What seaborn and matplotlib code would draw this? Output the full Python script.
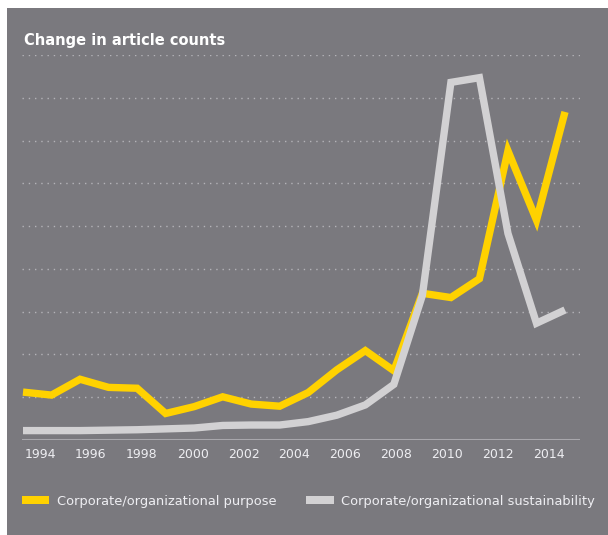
import numpy as np
import pandas as pd
import matplotlib
matplotlib.use("Agg")
import matplotlib.pyplot as plt
from matplotlib.patches import Rectangle, Patch
import seaborn as sns

# ---- data (arbitrary units, gridline = 1) ----
point_index = list(range(20))
purpose = [1.12, 1.05, 1.42, 1.23, 1.21, 0.62, 0.78, 1.01, 0.84, 0.79,
           1.11, 1.64, 2.09, 1.62, 3.43, 3.33, 3.77, 6.76, 5.14, 7.67]
sustainability = [0.22, 0.22, 0.22, 0.23, 0.24, 0.26, 0.28, 0.34, 0.35, 0.35,
                  0.43, 0.58, 0.82, 1.30, 3.38, 8.36, 8.47, 4.83, 2.73, 3.04]
tick_years = [1994, 1996, 1998, 2000, 2002, 2004, 2006, 2008, 2010, 2012, 2014]
series_names = ["Corporate/organizational purpose", "Corporate/organizational sustainability"]
title = "Change in article counts"

YELLOW = "#ffd200"
LGRAY = "#d2d1d3"
BG = "#7a797e"
TXT = "#eeeef2"

df = pd.DataFrame({"x": point_index * 2,
                   "value": purpose + sustainability,
                   "series": [series_names[0]] * 20 + [series_names[1]] * 20})

sns.set_theme(style="white")
plt.rcParams["font.family"] = ["DejaVu Sans"]

W, H = 608, 535
fig = plt.figure(figsize=(W / 100, H / 100), dpi=100, facecolor="white")
fig.patches.append(Rectangle((7 / W, 0), 1 - 7 / W, 1 - 8 / H,
                             transform=fig.transFigure, facecolor=BG,
                             edgecolor="none", zorder=-5))

left_px, right_px, base_px, top_px = 22, 580, 440, 55
ax = fig.add_axes([left_px / W, 1 - base_px / H,
                   (right_px - left_px) / W, (base_px - top_px) / H])
ax.set_facecolor("none")
ax.set_zorder(2)

sns.lineplot(data=df, x="x", y="value", hue="series",
             palette={series_names[0]: YELLOW, series_names[1]: LGRAY},
             hue_order=series_names, linewidth=5.3, ax=ax, legend=False,
             zorder=3)
for ln in ax.lines:
    ln.set_solid_capstyle("butt")
    ln.set_solid_joinstyle("miter")

spacing = (565 - 23) / 19.0
ax.set_xlim(-(23 - left_px) / spacing, 19 + (right_px - 565) / spacing)
ax.set_ylim(0, 9)

for g in range(1, 10):
    ax.axhline(g, color="#b4b3b8", linewidth=1.0, linestyle=(0, (1, 3.5)), zorder=1)
ax.axhline(0, color="#a8a7ac", linewidth=1.5, zorder=2)

tick_pos = [(40 - 23) / spacing + (y - 1994) * (25.45 / spacing) for y in tick_years]
ax.set_xticks(tick_pos, [str(y) for y in tick_years])
ax.set_yticks([])
ax.tick_params(axis="x", length=0, pad=6, labelsize=9, labelcolor=TXT)
ax.set_xlabel("")
ax.set_ylabel("")
for s in ax.spines.values():
    s.set_visible(False)

fig.text(24 / W, 1 - 40 / H, title, color="white", fontsize=10.5,
         fontweight="bold", va="center", ha="left")

handles = [Patch(facecolor=YELLOW, edgecolor="none"),
           Patch(facecolor=LGRAY, edgecolor="none")]
fig.legend(handles, series_names, loc="center left",
           bbox_to_anchor=(22 / W, 1 - 501 / H), ncol=2, frameon=False,
           fontsize=9.4, labelcolor=TXT, handlelength=2.1, handleheight=0.6,
           handletextpad=0.55, columnspacing=2.3, borderpad=0, borderaxespad=0)

fig.savefig("out.png", dpi=100, facecolor="white")
